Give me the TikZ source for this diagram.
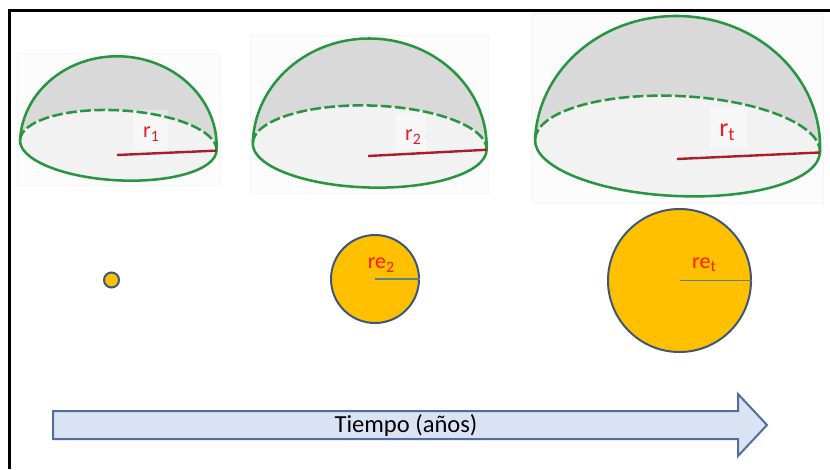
\documentclass[tikz,border=0pt]{standalone}
\usepackage{fontspec}
\usepackage{graphicx}
\setmainfont{Carlito}
\usetikzlibrary{calc}

\definecolor{domegreen}{RGB}{40,150,65}
\definecolor{domegray}{RGB}{217,217,217}
\definecolor{basegray}{RGB}{242,242,242}
\definecolor{radred}{RGB}{170,30,40}
\definecolor{labred}{RGB}{228,30,45}
\definecolor{sungold}{RGB}{255,192,0}
\definecolor{sunedge}{RGB}{62,86,120}
\definecolor{sunrad}{RGB}{95,125,140}
\definecolor{relab}{RGB}{255,30,0}
\definecolor{arrowfill}{RGB}{218,227,243}
\definecolor{arrowedge}{RGB}{80,110,160}

% lowered, smaller index
\newcommand{\lowsub}[1]{\raisebox{-0.32ex}{\scalebox{0.72}{#1}}}

% half sphere: #1,#2 centre, #3 tilt, #4 half width, #5 base depth, #6 height, #7 name
\newcommand{\halfdome}[7]{%
  \begin{scope}[shift={(#1,#2)}, rotate=-#3]
    \coordinate (#7-left) at (-#4,0);
    \coordinate (#7-right) at (#4,0);
    \fill[domegray] (#7-left) arc[start angle=180, end angle=360, x radius=#4, y radius=#6]
      arc[start angle=0, end angle=-180, x radius=#4, y radius=#5] -- cycle;
    \fill[basegray] (0,0) ellipse[x radius=#4, y radius=#5];
  \end{scope}}
\newcommand{\halfdomelines}[7]{%
  \begin{scope}[shift={(#1,#2)}, rotate=-#3]
    \draw[rim, dash pattern=on 8pt off 2.6pt] (-#4,0)
      arc[start angle=180, end angle=360, x radius=#4, y radius=#5];
    \draw[rim] (-#4,0) arc[start angle=180, end angle=0, x radius=#4, y radius=#5];
    \draw[rim] (-#4,0) arc[start angle=180, end angle=360, x radius=#4, y radius=#6];
  \end{scope}}

\tikzset{
  panel/.style={fill=black!1.2, draw=black!4, line width=0.5pt},
  rim/.style={draw=domegreen, line width=1.9pt},
  radius/.style={draw=radred, line width=1.8pt},
  labbox/.style={fill=white, fill opacity=0.4, draw=none},
  rlabel/.style={text=labred, inner sep=0pt},
  sun/.style={circle, fill=sungold, draw=sunedge, line width=1.5pt, inner sep=0pt},
  sunradius/.style={draw=sunrad, line width=1.1pt},
  relabel/.style={text=relab, inner sep=0pt, font=\fontsize{16.5}{18}\selectfont},
  timearrow/.style={fill=arrowfill, draw=arrowedge, line width=1.5pt, line join=miter},
}

\begin{document}
\begin{tikzpicture}[x=0.75pt, y=-0.75pt]
  \useasboundingbox (0,0) rectangle (830,469);
  \fill[white] (0,0) rectangle (830,469);

  % frame
  \draw[line width=2pt] (9.7,469) -- (9.7,10.7) -- (830,10.7);

  % backgrounds of the three half spheres
  \draw[panel] (17,53) rectangle (220,185);
  \draw[panel] (250,35) rectangle (488,193);
  \draw[panel] (532,13) rectangle (823,203);

  % half spheres: surfaces
  \halfdome{118.3}{145.3}{3.1}{98.4}{35}{89}{h1}
  \halfdome{369.7}{146.5}{1.6}{117}{41}{108}{h2}
  \halfdome{677.5}{146}{2.6}{142.6}{50}{130}{h3}

  % label backgrounds
  \fill[labbox] (133,110) rectangle (168,150);
  \fill[labbox] (396,113) rectangle (426,150);
  \fill[labbox] (710,107) rectangle (747,148);

  % half spheres: outlines
  \halfdomelines{118.3}{145.3}{3.1}{98.4}{35}{89}{h1}
  \halfdomelines{369.7}{146.5}{1.6}{117}{41}{108}{h2}
  \halfdomelines{677.5}{146}{2.6}{142.6}{50}{130}{h3}

  % radii
  \coordinate (h1-c) at (117,155);
  \coordinate (h2-c) at (368,156);
  \coordinate (h3-c) at (677,159);
  \draw[radius] (h1-c) -- (h1-right);
  \draw[radius] (h2-c) -- (h2-right);
  \draw[radius] (h3-c) -- (h3-right);

  \node[rlabel, font=\fontsize{16.5}{18}\selectfont] (r1) at (151,134) {r\lowsub{1}};
  \node[rlabel, font=\fontsize{16.5}{18}\selectfont] (r2) at (413,137) {r\lowsub{2}};
  \node[rlabel, font=\fontsize{19.5}{22}\selectfont] (rt) at (727,132) {r\lowsub{t}};

  % growing spheres
  \node[sun, minimum size=11.25pt] (s1) at (111.5,280) {};
  \node[sun, minimum size=66pt] (s2) at (375,279) {};
  \node[sun, minimum size=107.25pt] (s3) at (679.5,280.5) {};
  \draw[sunradius] (s2.center) -- (s2.east);
  \draw[sunradius] (s3.center) -- (s3.east);
  \node[relabel] (re2) at (381,265) {re\lowsub{2}};
  \node[relabel] (ret) at (704,265) {re\lowsub{t}};

  % time arrow
  \coordinate (a-tl) at (53,411);
  \coordinate (a-bl) at (53,439);
  \coordinate (a-tip) at (767,425);
  \draw[timearrow] (a-tl) -- (738,411) -- (738,394) -- (a-tip)
    -- (738,456) -- (738,439) -- (a-bl) -- cycle;
  \node[font=\fontsize{18.4}{21}\selectfont, inner sep=0pt] (tiempo) at (406,425) {Tiempo (años)};
\end{tikzpicture}
\end{document}
